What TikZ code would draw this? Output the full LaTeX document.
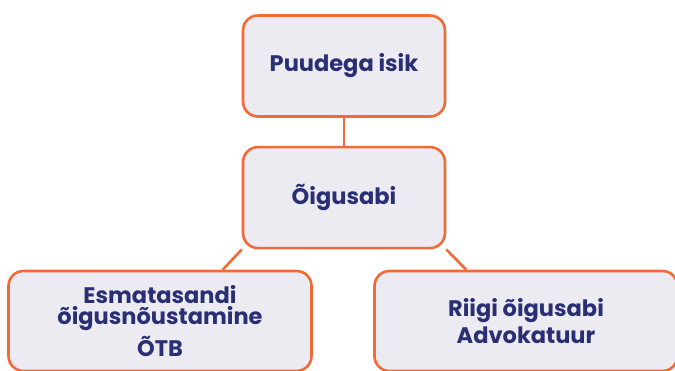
\documentclass[tikz,border=0pt]{standalone}
\usepackage{fontspec}
\setmainfont{Poppins}
\usepackage{tikz}
\usetikzlibrary{positioning,calc,backgrounds}
\definecolor{edgeorange}{HTML}{F26A36}
\definecolor{boxgrey}{HTML}{ECEBF1}
\definecolor{textnavy}{HTML}{2A2E74}

\begin{document}
\begin{tikzpicture}[x=1pt,y=1pt,
box/.style={draw=edgeorange,line width=2.6pt,rounded corners=15pt,fill=boxgrey,text=textnavy,
  font=\fontsize{22.5}{25}\selectfont\bfseries,align=center,minimum width=202pt,minimum height=101pt},
widebox/.style={box,minimum width=303pt,minimum height=100pt},
link/.style={draw=edgeorange,line width=2.6pt}]
\useasboundingbox (0,0) rectangle (675,-370);
\clip (0,0) rectangle (675,-370);
\node[box](isik) at (344,-66){Puudega isik};
\node[box,below=28pt of isik](oigusabi){Õigusabi};
\node[widebox](esmatasandi) at (160,-321){Esmatasandi\\[-4pt]õigusnõustamine\\[4pt]ÕTB};
\node[widebox](riigi) at (526,-321){Riigi õigusabi\\[2pt]Advokatuur};
\begin{scope}[on background layer]
\draw[link](isik)--(oigusabi);
\draw[link](oigusabi.south west)--($(esmatasandi.north east)+(-90pt,0)$);
\draw[link](oigusabi.south east)--($(riigi.north west)+(93pt,0)$);
\end{scope}
\end{tikzpicture}
\end{document}
